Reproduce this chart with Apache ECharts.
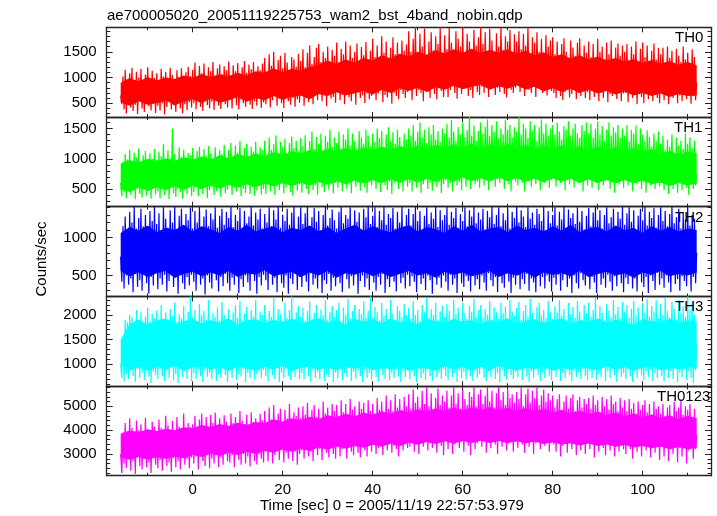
<!DOCTYPE html>
<html><head><meta charset="utf-8">
<script src="https://cdn.jsdelivr.net/npm/echarts@6/dist/echarts.min.js"></script>
<style>html,body{margin:0;padding:0;background:#fff}#c{width:717px;height:516px}</style>
</head><body><div id="c"></div>
<script>
// ---- data (time axis in seconds) ----
const tStart = -16, tEnd = 112;
const coreStart = -16, coreStep = 2;

const th0 = [
650,480,1020,380,1150,300,960,520,1080,420,1190,350,930,470,1110,290,1000,540,1170,400,950,330,1060,500,1200,440,910,360,1130,520,990,310,
1080,450,940,360,1170,500,1020,280,1110,430,960,540,1190,380,1050,460,920,330,1140,510,1000,400,1180,300,970,480,1100,370,1210,520,1030,420,
1150,500,1290,380,1010,560,1230,430,1080,350,1270,590,990,460,1200,400,1120,530,1300,370,1040,600,1180,450,1250,390,1070,550,1220,480,1140,420,
1310,560,1050,400,1240,610,1120,460,1280,380,990,580,1200,500,1320,430,1090,620,1250,470,1160,390,1300,540,1030,450,1220,600,1140,410,1270,520,
1380,480,1120,620,1450,420,1230,560,1500,640,1100,450,1340,590,1420,500,1180,410,1480,630,1290,540,1060,470,1400,600,1350,430,1210,580,1460,510,
1320,640,1550,450,1200,600,1480,520,1620,680,1260,480,1400,660,1580,560,1650,700,1300,540,1500,650,1380,440,1600,690,1250,590,1540,620,1420,510,
1680,700,1300,560,1560,660,1450,480,1700,720,1220,610,1620,540,1380,680,1500,470,1660,710,1280,600,1590,650,1430,500,1690,690,1350,580,1520,640,
1750,720,1400,560,1620,690,1300,750,1800,520,1480,660,1700,610,1350,740,1580,490,1780,700,1450,640,1680,580,1260,760,1720,680,1520,600,1640,720,
1900,780,1500,560,1750,800,1980,640,1420,760,1850,700,1600,540,1950,820,1380,720,1700,600,1880,790,1530,680,1800,580,1650,810,1980,740,1450,620,
1820,800,1550,620,1960,760,1680,850,1400,700,1900,590,1750,820,1600,680,1980,780,1480,840,1850,640,1700,760,1360,600,1920,830,1620,720,1780,660,
1980,820,1650,700,1880,860,1500,620,1950,780,1720,840,1400,660,1860,800,1600,720,1980,850,1540,680,1800,610,1700,830,1920,760,1450,700,1840,800,
1700,860,1900,720,1550,800,1850,640,1620,850,1980,760,1450,700,1780,830,1680,620,1880,790,1500,860,1750,700,1380,780,1820,650,1600,840,1720,740,
1780,700,1450,600,1700,780,1350,640,1650,560,1760,720,1500,800,1300,610,1720,680,1580,760,1420,580,1680,700,1760,640,1380,790,1620,600,1480,720,
1700,560,1400,740,1650,620,1280,780,1750,540,1500,700,1600,600,1350,770,1680,520,1450,680,1720,640,1300,760,1580,580,1660,720,1420,540,1620,690,
1500,700,1650,520,1300,740,1600,600,1450,760,1700,480,1250,680,1560,620,1680,500,1400,720,1620,580,1220,740,1520,540,1660,690,1350,600,1580,500,
1450,700,1580,560,1250,720,1600,480,1380,680,1520,600,1200,720,1560,500,1420,650,1300,540,1600,700,1350,580,1480,720,1250,490,1550,640,1400,560,
900];
const th0CoreLo = [520,450,540,470,500,560,460,530,580,500,590,510,560,620,530,600,560,640,570,620,650,580,680,640,720,650,700,740,670,760,700,790,740,800,720,810,760,840,770,820,860,760,830,780,850,760,820,730,790,720,780,700,760,690,740,670,730,650,700,640,690,620,680,640,650];
const th0CoreHi = [900,990,920,1010,940,1000,970,1040,990,1070,1010,1060,1020,1090,1040,1120,1090,1180,1100,1170,1130,1200,1250,1330,1260,1350,1290,1380,1330,1430,1370,1460,1410,1500,1440,1530,1470,1550,1480,1560,1470,1540,1480,1550,1460,1520,1430,1490,1400,1450,1370,1430,1350,1410,1330,1380,1310,1360,1280,1340,1270,1320,1250,1300,1240];

const th1 = [
600,380,950,450,1080,350,990,520,1150,400,930,480,1100,330,1020,540,1170,420,960,360,1060,500,1130,390,940,470,1090,340,1000,530,1160,410,
980,460,1120,350,1040,520,1250,400,950,480,1140,330,1010,540,1500,430,1080,370,970,510,1190,450,1030,340,1150,490,990,410,1100,530,1060,380,
1180,450,1000,560,1130,380,1200,500,980,420,1160,570,1050,350,1210,480,1090,540,970,400,1190,460,1020,580,1140,370,1080,520,1230,430,1000,490,
1150,560,1260,400,1030,520,1220,460,1100,580,1300,380,1060,500,1180,440,1250,570,1010,420,1200,530,1120,390,1280,480,1070,550,1190,410,1140,500,
1300,420,1080,580,1350,460,1150,600,1240,400,1390,540,1100,480,1280,590,1200,430,1330,520,1060,600,1260,450,1370,390,1180,560,1300,470,1120,580,
1340,440,1210,600,1390,500,1100,420,1300,620,1450,480,1160,560,1360,410,1250,600,1420,530,1140,450,1380,620,1280,490,1480,580,1200,430,1350,600,
1260,520,1450,620,1180,460,1400,640,1320,500,1500,580,1220,430,1420,650,1300,540,1170,600,1460,470,1350,630,1240,520,1480,440,1380,610,1200,560,
1420,640,1280,500,1500,600,1340,450,1460,650,1200,560,1400,480,1520,620,1300,420,1440,590,1250,650,1480,500,1360,610,1180,460,1420,640,1320,540,
1500,600,1380,460,1560,650,1300,520,1450,620,1600,440,1350,580,1480,650,1260,500,1520,600,1400,470,1560,640,1320,540,1460,610,1280,430,1500,580,
1420,650,1580,520,1350,600,1640,460,1450,680,1300,560,1520,620,1400,480,1600,700,1360,540,1480,640,1690,500,1380,660,1550,580,1300,620,1460,520,
1600,700,1420,560,1530,680,1650,480,1380,640,1560,700,1450,540,1620,660,1340,600,1500,700,1400,500,1640,680,1480,580,1560,460,1360,690,1520,620,
1450,560,1690,700,1400,600,1580,460,1500,680,1350,620,1620,540,1460,700,1560,580,1300,660,1520,480,1650,690,1420,600,1580,700,1380,520,1500,650,
1560,700,1400,540,1600,660,1450,600,1320,700,1540,480,1480,650,1620,580,1380,700,1500,520,1580,640,1420,600,1350,700,1560,460,1460,680,1600,560,
1420,640,1580,520,1350,700,1500,600,1620,480,1400,680,1540,560,1300,650,1480,700,1600,500,1380,620,1520,440,1440,680,1560,580,1350,650,1500,520,
1380,660,1560,560,1300,700,1480,460,1420,640,1550,580,1250,680,1500,500,1400,620,1300,440,1470,660,1360,560,1200,600,1420,500,1300,640,1450,540,
1250,600,1380,480,1150,620,1320,420,1200,580,1400,500,1100,640,1350,440,1220,600,1300,480,1160,620,1420,520,1250,400,1350,600,1180,500,1300,560,
750];
const th1CoreLo = [500,450,520,470,530,480,540,490,550,500,560,510,570,520,580,530,590,540,600,550,610,560,620,570,630,580,640,590,650,600,660,600,660,610,670,620,680,620,690,630,680,620,690,630,680,620,670,610,680,620,670,600,660,600,650,590,650,590,640,580,610,550,600,560,590];
const th1CoreHi = [920,980,940,1000,950,1010,960,1030,980,1040,990,1060,1010,1080,1030,1090,1040,1110,1060,1130,1080,1150,1100,1170,1120,1180,1130,1190,1140,1200,1150,1210,1160,1220,1170,1230,1180,1240,1180,1250,1170,1240,1180,1250,1170,1230,1160,1230,1160,1220,1150,1210,1140,1200,1140,1190,1130,1180,1120,1160,1080,1130,1070,1120,1090];

const th2 = [
750,420,1150,330,1280,500,1090,380,1340,460,1200,280,1410,520,1120,350,1260,440,1380,300,1150,510,1300,400,1080,260,1350,480,1220,370,1410,530,
1180,320,1320,460,1100,380,1400,510,1250,290,1130,430,1360,500,1200,350,1410,470,1090,260,1290,540,1380,400,1160,320,1310,480,1230,370,1400,510,
1120,420,1350,300,1200,520,1410,380,1100,460,1280,250,1370,500,1150,410,1320,330,1240,540,1400,440,1130,290,1290,480,1380,360,1170,520,1340,400,
1260,300,1410,470,1140,380,1300,530,1220,270,1390,450,1110,350,1350,500,1190,410,1280,300,1410,540,1160,430,1330,260,1240,480,1380,370,1120,510,
1310,440,1200,310,1400,520,1150,380,1360,470,1240,280,1410,540,1130,400,1300,340,1220,500,1380,260,1170,460,1330,390,1410,520,1100,310,1280,480,
1400,350,1180,500,1320,420,1410,290,1140,530,1270,380,1390,460,1210,330,1350,510,1100,270,1300,440,1410,390,1160,520,1260,300,1370,470,1230,360,
1120,500,1340,400,1410,280,1190,540,1300,450,1250,330,1400,490,1150,370,1360,520,1210,260,1330,430,1090,500,1380,350,1270,460,1410,310,1180,530,
1290,410,1400,300,1140,480,1350,380,1230,520,1410,270,1170,450,1310,350,1260,500,1390,420,1120,290,1340,540,1200,400,1410,470,1150,330,1300,510,
1380,360,1160,490,1310,420,1410,280,1220,530,1350,390,1100,460,1290,310,1400,500,1180,440,1330,260,1250,520,1410,380,1140,470,1360,340,1230,500,
1300,420,1410,300,1170,510,1340,380,1260,460,1390,270,1130,530,1310,400,1220,350,1400,490,1150,430,1360,290,1280,520,1410,370,1190,450,1330,320,
1240,500,1380,410,1110,300,1350,530,1270,440,1410,360,1180,480,1300,280,1400,510,1150,400,1320,340,1230,530,1390,420,1120,270,1340,470,1260,380,
1410,500,1200,320,1360,450,1280,390,1140,520,1400,300,1250,460,1330,410,1170,280,1380,540,1310,360,1220,480,1410,330,1100,500,1350,420,1190,290,
1300,470,1400,380,1160,510,1340,300,1240,440,1410,520,1130,350,1370,460,1260,270,1320,500,1180,400,1400,330,1210,530,1350,440,1110,370,1290,490,
1390,320,1150,480,1330,410,1410,270,1230,530,1360,380,1120,460,1300,340,1400,510,1190,420,1270,300,1380,490,1140,360,1340,540,1250,400,1410,280,
1170,470,1320,390,1400,510,1210,330,1360,460,1100,290,1290,520,1380,410,1230,350,1410,480,1160,270,1340,500,1260,430,1390,310,1130,540,1300,380,
1400,460,1220,340,1350,500,1150,410,1310,280,1410,520,1190,390,1270,450,1380,300,1120,490,1330,430,1240,360,1400,510,1160,290,1300,480,1250,400,
800];
const th2CoreLo = [560,490,540,480,530,560,470,520,550,490,540,500,560,480,530,510,570,490,520,550,480,540,500,560,470,530,510,550,490,540,480,520,560,500,530,470,550,510,540,490,520,560,480,530,500,550,470,540,510,530,490,560,480,520,550,500,530,470,540,510,560,490,520,500,540];
const th2CoreHi = [1060,1140,1090,1160,1070,1130,1100,1170,1080,1150,1110,1060,1140,1090,1170,1080,1120,1150,1070,1130,1100,1160,1080,1140,1060,1120,1170,1090,1150,1100,1070,1130,1160,1080,1140,1110,1060,1150,1090,1170,1080,1120,1140,1070,1160,1100,1130,1080,1150,1090,1170,1070,1120,1140,1080,1160,1100,1130,1060,1150,1090,1140,1080,1120,1100];

const th3 = [
1000,720,1550,650,1900,800,1850,700,2000,880,1950,760,1820,640,2100,900,1880,720,2050,830,1800,680,1960,920,2150,750,1870,620,2020,850,1930,780,
2080,700,1840,900,2200,760,1900,650,2050,880,1820,720,2120,940,1980,680,2250,800,1860,620,2010,900,1930,740,2180,860,1880,700,2060,930,2370,660,
1950,820,2100,700,1850,900,2220,760,1990,640,2080,880,1900,740,2300,820,1830,700,2040,940,1960,660,2150,800,1880,720,2260,900,2000,780,1920,640,
2120,860,1860,720,2050,920,2200,680,1940,800,2280,750,1880,900,2020,640,2160,830,1900,720,2100,950,1970,690,2300,800,1850,860,2060,710,1990,880,
2200,760,1900,650,2080,900,1960,780,2350,700,1880,920,2120,640,2010,830,1870,720,2250,900,1940,760,2100,680,2370,850,1920,740,2050,900,2180,700,
1960,820,2150,690,1880,940,2080,760,2270,650,1920,880,2040,720,2200,840,1850,700,2110,920,1990,660,2300,800,1900,740,2060,900,2180,640,1950,830,
2100,720,2250,900,1880,680,2150,820,2000,740,2320,930,1930,660,2070,850,2200,700,1860,880,2120,760,2010,640,2280,900,1950,720,2090,820,2370,690,
1940,880,2160,740,2050,650,1880,900,2240,780,1990,700,2120,940,1900,680,2300,820,2030,720,1860,900,2180,760,2080,640,1950,850,2220,740,1990,910,
2140,700,1920,860,2280,760,2000,640,2100,900,1880,720,2200,820,2050,680,2350,940,1940,760,2120,660,1990,880,2250,730,1900,830,2070,700,2180,900,
1960,760,2220,680,2080,910,1900,740,2300,820,2010,640,2150,880,1870,720,2240,850,2040,690,1920,930,2180,760,2060,660,2320,880,1950,720,2100,800,
2200,900,1940,720,2120,660,2000,860,2280,740,1880,900,2150,700,2050,820,1920,640,2250,880,2030,760,2170,690,1900,920,2300,780,2060,700,1980,850,
2140,740,2260,880,1900,680,2080,920,2200,760,1960,640,2320,860,2040,720,1880,900,2160,780,2250,660,1990,840,2100,720,1930,900,2280,760,2050,680,
1920,880,2180,740,2050,900,2300,660,1980,820,2120,720,1890,920,2240,780,2010,650,2160,880,1940,740,2280,840,2070,700,1900,900,2200,760,2030,680,
2250,860,1960,720,2100,900,2340,680,1930,800,2180,740,2040,920,1880,660,2220,860,2080,720,1950,900,2300,780,2010,640,2160,880,1920,740,2260,820,
2060,700,2200,900,1940,760,2120,640,2280,880,1990,720,2150,920,1880,780,2240,680,2040,860,2320,740,1960,900,2180,660,2060,820,2300,720,1930,880,
2220,760,2000,650,2350,900,2080,720,1950,860,2260,700,2120,920,1900,640,2300,820,2040,740,2180,900,1960,680,2370,860,2100,720,2250,620,2000,880,
1400];
const th3CoreLo = [1000,880,940,870,950,900,960,880,930,970,890,940,870,960,910,880,950,900,970,870,930,960,890,940,880,950,910,970,880,930,900,960,870,940,910,880,960,900,940,870,950,890,970,910,880,940,900,960,870,930,890,950,910,880,960,900,940,870,930,960,880,940,900,950,910];
const th3CoreHi = [1500,1820,1900,1810,1880,1930,1800,1870,1920,1820,1890,1840,1930,1800,1880,1910,1830,1900,1850,1920,1810,1880,1930,1840,1890,1800,1920,1860,1900,1830,1930,1850,1880,1810,1910,1870,1830,1920,1860,1890,1800,1900,1850,1930,1820,1880,1910,1840,1870,1930,1810,1890,1860,1920,1830,1900,1850,1800,1910,1870,1840,1920,1830,1890,1860];

const th0123 = [
3000,2200,3900,2600,4300,2400,3950,2800,4500,2300,4100,2700,3880,2160,4400,2900,4000,2500,4250,2350,3920,2800,4520,2450,4050,2650,3860,2200,4350,2850,4150,2550,
3950,2400,4450,2750,4100,2300,3900,2880,4600,2500,4200,2650,4000,2250,4380,2820,3930,2450,4550,2700,4150,2350,4050,2900,4700,2550,3960,2780,4300,2400,4120,2850,
4250,2600,4600,2900,4050,2350,4450,3000,4700,2700,4150,2500,4550,2950,4080,2400,4650,2800,4300,2600,4740,3020,4100,2450,4500,2850,4200,2550,4620,2980,4350,2700,
4150,2650,4700,2950,4300,2450,4550,3050,4100,2750,4800,2550,4400,3000,4250,2600,4650,2900,4180,2480,4750,3050,4350,2700,4500,2560,4220,2980,4680,2800,4400,2650,
4800,3100,4300,2700,4950,3200,4450,2600,5050,2950,4350,3150,4700,2750,4900,3230,4250,2650,4850,3050,4500,2800,5100,3200,4400,2700,4750,3100,4600,2550,4950,3000,
4500,3150,5000,2800,4650,3250,5150,2900,4400,3100,4850,2700,5050,3300,4550,2950,4900,3200,4450,2750,5200,3250,4700,3050,4950,2850,4600,3300,5100,3000,4800,2800,
5050,3350,4600,2900,5250,3200,4750,3380,5100,2800,4650,3300,5300,3100,4850,2950,5000,3380,4550,3050,5200,2850,4900,3300,5150,3150,4700,2900,5250,3350,4800,3100,
5100,3400,4700,3000,5350,3250,4850,3450,5200,2950,4750,3400,5450,3150,4900,3500,5250,3050,4800,3350,5500,3200,4950,2900,5300,3450,4850,3150,5400,3500,5000,3250,
5500,3300,4900,3600,5700,3100,5150,3500,5400,3000,4950,3550,5650,3300,5100,3600,5800,3150,5000,3450,5550,3250,4800,3600,5350,3050,5750,3500,5050,3350,5450,2950,
5200,3550,5650,3200,4950,3600,5450,3000,5800,3400,5100,3600,5550,3250,4900,3500,5700,3100,5300,3600,5050,3350,5600,2950,5400,3550,5800,3200,5000,3450,5500,3600,
5700,3300,5100,3600,5450,3050,5800,3500,5200,3250,5650,3600,4950,3400,5550,3000,5800,3550,5250,3300,5600,3600,5050,3150,5750,3450,5350,3600,5500,3100,5150,3500,
5600,3250,5300,3600,5800,3400,5000,3050,5500,3600,5750,3300,5150,3550,5650,3000,5350,3450,5800,3600,5050,3200,5450,3550,5700,3350,5200,3600,5550,3100,5250,3450,
5450,3400,4950,3100,5300,3530,5500,2900,4850,3350,5200,3500,5450,3050,4900,3450,5350,3200,5500,3530,4800,2950,5250,3400,5400,3150,4950,3500,5300,3000,5100,3450,
5350,3200,4900,3500,5450,2850,5050,3400,5250,3100,4750,3530,5400,3250,5000,2950,5300,3450,4850,3150,5450,3500,5100,2900,5200,3350,4800,3100,5350,3480,4950,3200,
5250,3000,4800,3450,5300,3200,4900,2800,5150,3400,4700,3100,5200,3450,4850,2900,5050,3350,5250,3150,4750,3400,5100,2850,4650,3300,5200,3050,4900,3400,5000,2750,
4700,3300,5100,2900,4600,3350,4950,2700,5050,3200,4550,3000,5200,3350,4800,2650,4950,3250,5300,2900,4650,3300,5000,2600,4850,3150,5100,3350,4500,2800,4900,3200,
3800];
const th0123CoreLo = [2850,2760,2880,2770,2860,2800,2900,2820,2960,2870,3010,2920,3060,2960,3090,3000,3140,3050,3190,3090,3220,3130,3270,3180,3310,3220,3340,3260,3390,3300,3430,3330,3470,3390,3500,3420,3540,3440,3550,3460,3560,3460,3550,3450,3540,3450,3520,3420,3490,3400,3450,3360,3440,3340,3400,3300,3380,3270,3340,3240,3310,3200,3290,3200,3250];
const th0123CoreHi = [3850,3990,3920,4030,3960,4060,4000,4120,4080,4220,4130,4260,4170,4310,4220,4340,4300,4460,4360,4500,4410,4560,4470,4620,4540,4690,4580,4730,4640,4790,4690,4830,4740,4880,4780,4920,4800,4950,4820,4960,4830,4970,4820,4950,4800,4930,4780,4900,4730,4850,4690,4810,4660,4780,4620,4740,4580,4700,4540,4660,4500,4620,4470,4600,4500];

const panelNames = ['TH0','TH1','TH2','TH3','TH0123'];
const yTickLabels = [[500,1000,1500],[500,1000,1500],[500,1000],[1000,1500,2000],[3000,4000,5000]];
const xTickLabels = [0,20,40,60,80,100];
const xMinorTicks = [-10,10,30,50,70,90,110];
const titleText = 'ae700005020_20051119225753_wam2_bst_4band_nobin.qdp';
const xTitle = 'Time [sec] 0 = 2005/11/19 22:57:53.979';
const yTitle = 'Counts/sec';

// ---- layout & style ----
const colors = ['#ff0000','#00ff00','#0000ff','#00ffff','#ff00ff'];
const yRanges = [[233,1975],[208,1691],[224,1408],[554,2371],[2091,5838]];
const yMinorStep = [100,100,100,100,200];
const tops = [27.3,117,206.7,296.5,386.3];
const heights = [89.7,89.7,89.8,89.8,89.4];
const xMin = -19.11, xMax = 115.18;
const gridLeft = 106.7, gridWidth = 604.3;
const labelLeft = [675,674,675,675,657];
const FONT = '"Liberation Sans", Arial, Helvetica, sans-serif';
const lineCol = '#222';

const raw = [th0, th1, th2, th3, th0123];
const coreLo = [th0CoreLo, th1CoreLo, th2CoreLo, th3CoreLo, th0123CoreLo];
const coreHi = [th0CoreHi, th1CoreHi, th2CoreHi, th3CoreHi, th0123CoreHi];

const grids = [], xAxes = [], yAxes = [], series = [], graphics = [];
const plain = v => String(v);

function xAxis(gi, pos, vals, len, showLine, labels) {
  return {
    type: 'value', gridIndex: gi, position: pos, min: xMin, max: xMax,
    axisLine: {show: showLine, onZero: false, lineStyle: {color: lineCol, width: 1.3}},
    axisTick: {show: true, inside: true, length: len, customValues: vals, lineStyle: {color: lineCol, width: 1}},
    axisLabel: labels ? {show: true, customValues: labels, formatter: plain, color: '#000', fontSize: 15, fontFamily: FONT, margin: 7} : {show: false},
    splitLine: {show: false}
  };
}
function yAxis(gi, p, pos, vals, len, showLine, labels) {
  return {
    type: 'value', gridIndex: gi, position: pos, min: yRanges[p][0], max: yRanges[p][1],
    axisLine: {show: showLine, onZero: false, lineStyle: {color: lineCol, width: 1.3}},
    axisTick: {show: true, inside: true, length: len, customValues: vals, lineStyle: {color: lineCol, width: 1}},
    axisLabel: labels ? {show: true, customValues: labels, formatter: plain, color: '#000', fontSize: 15, fontFamily: FONT, margin: 10} : {show: false},
    splitLine: {show: false}
  };
}

for (let p = 0; p < 5; p++) {
  const majors = yTickLabels[p];
  const minors = [];
  const st = yMinorStep[p];
  for (let v = Math.ceil(yRanges[p][0] / st) * st; v <= yRanges[p][1]; v += st) {
    if (!majors.includes(v)) minors.push(v);
  }
  for (let layer = 0; layer < 2; layer++) {
    const gi = grids.length;
    grids.push({left: gridLeft, width: gridWidth, top: tops[p], height: heights[p]});
    const major = layer === 0;
    const xv = major ? xTickLabels : xMinorTicks;
    const xl = major ? 5 : 3;
    const yv = major ? majors : minors;
    const yl = major ? 6 : 3.5;
    xAxes.push(xAxis(gi, 'bottom', xv, xl, major, (major && p === 4) ? xTickLabels : null));
    xAxes.push(xAxis(gi, 'top', xv, xl, major, null));
    yAxes.push(yAxis(gi, p, 'left', yv, yl, major, major ? majors : null));
    yAxes.push(yAxis(gi, p, 'right', yv, yl, major, null));
  }
  const xi = p * 4, yi = p * 4;
  const n = raw[p].length;
  const dt = (tEnd - tStart) / (n - 1);
  const zig = raw[p].map((v, i) => [tStart + i * dt, v]);
  const lo = coreLo[p], hi = coreHi[p];
  const bandData = lo.map((v, i) => [coreStart + i * coreStep, v, hi[i]]);
  const col = colors[p];
  series.push({
    type: 'custom', xAxisIndex: xi, yAxisIndex: yi, data: bandData, silent: true, z: 1, clip: true,
    encode: {x: 0, y: [1, 2]},
    renderItem: function (params, api) {
      if (params.dataIndex !== 0) return null;
      const pts = [];
      for (let i = 0; i < bandData.length; i++) pts.push(api.coord([bandData[i][0], bandData[i][1]]));
      for (let i = bandData.length - 1; i >= 0; i--) pts.push(api.coord([bandData[i][0], bandData[i][2]]));
      return {type: 'polygon', shape: {points: pts}, style: {fill: col}};
    }
  });
  series.push({type: 'line', xAxisIndex: xi, yAxisIndex: yi, data: zig, symbol: 'none', clip: true,
    lineStyle: {color: col, width: 1.2}, silent: true, z: 3});

  graphics.push({type: 'text', x: labelLeft[p], y: tops[p] + 10.7, z: 100,
    style: {text: panelNames[p], font: '15px ' + FONT, fill: '#000', verticalAlign: 'middle', align: 'left'}});
}

graphics.push({type: 'text', x: 107, y: 15.5, style: {text: titleText, font: '15px ' + FONT, fill: '#000', verticalAlign: 'middle', align: 'left'}});
graphics.push({type: 'text', x: 260, y: 506, style: {text: xTitle, font: '15px ' + FONT, fill: '#000', verticalAlign: 'middle', align: 'left'}});
graphics.push({type: 'text', x: 42, y: 259, rotation: Math.PI / 2, style: {text: yTitle, font: '15px ' + FONT, fill: '#000', verticalAlign: 'middle', align: 'center'}});

const chart = echarts.init(document.getElementById('c'), null, {renderer: 'canvas'});
chart.setOption({
  animation: false,
  backgroundColor: '#fff',
  grid: grids, xAxis: xAxes, yAxis: yAxes, series: series, graphic: graphics
});
</script></body></html>
